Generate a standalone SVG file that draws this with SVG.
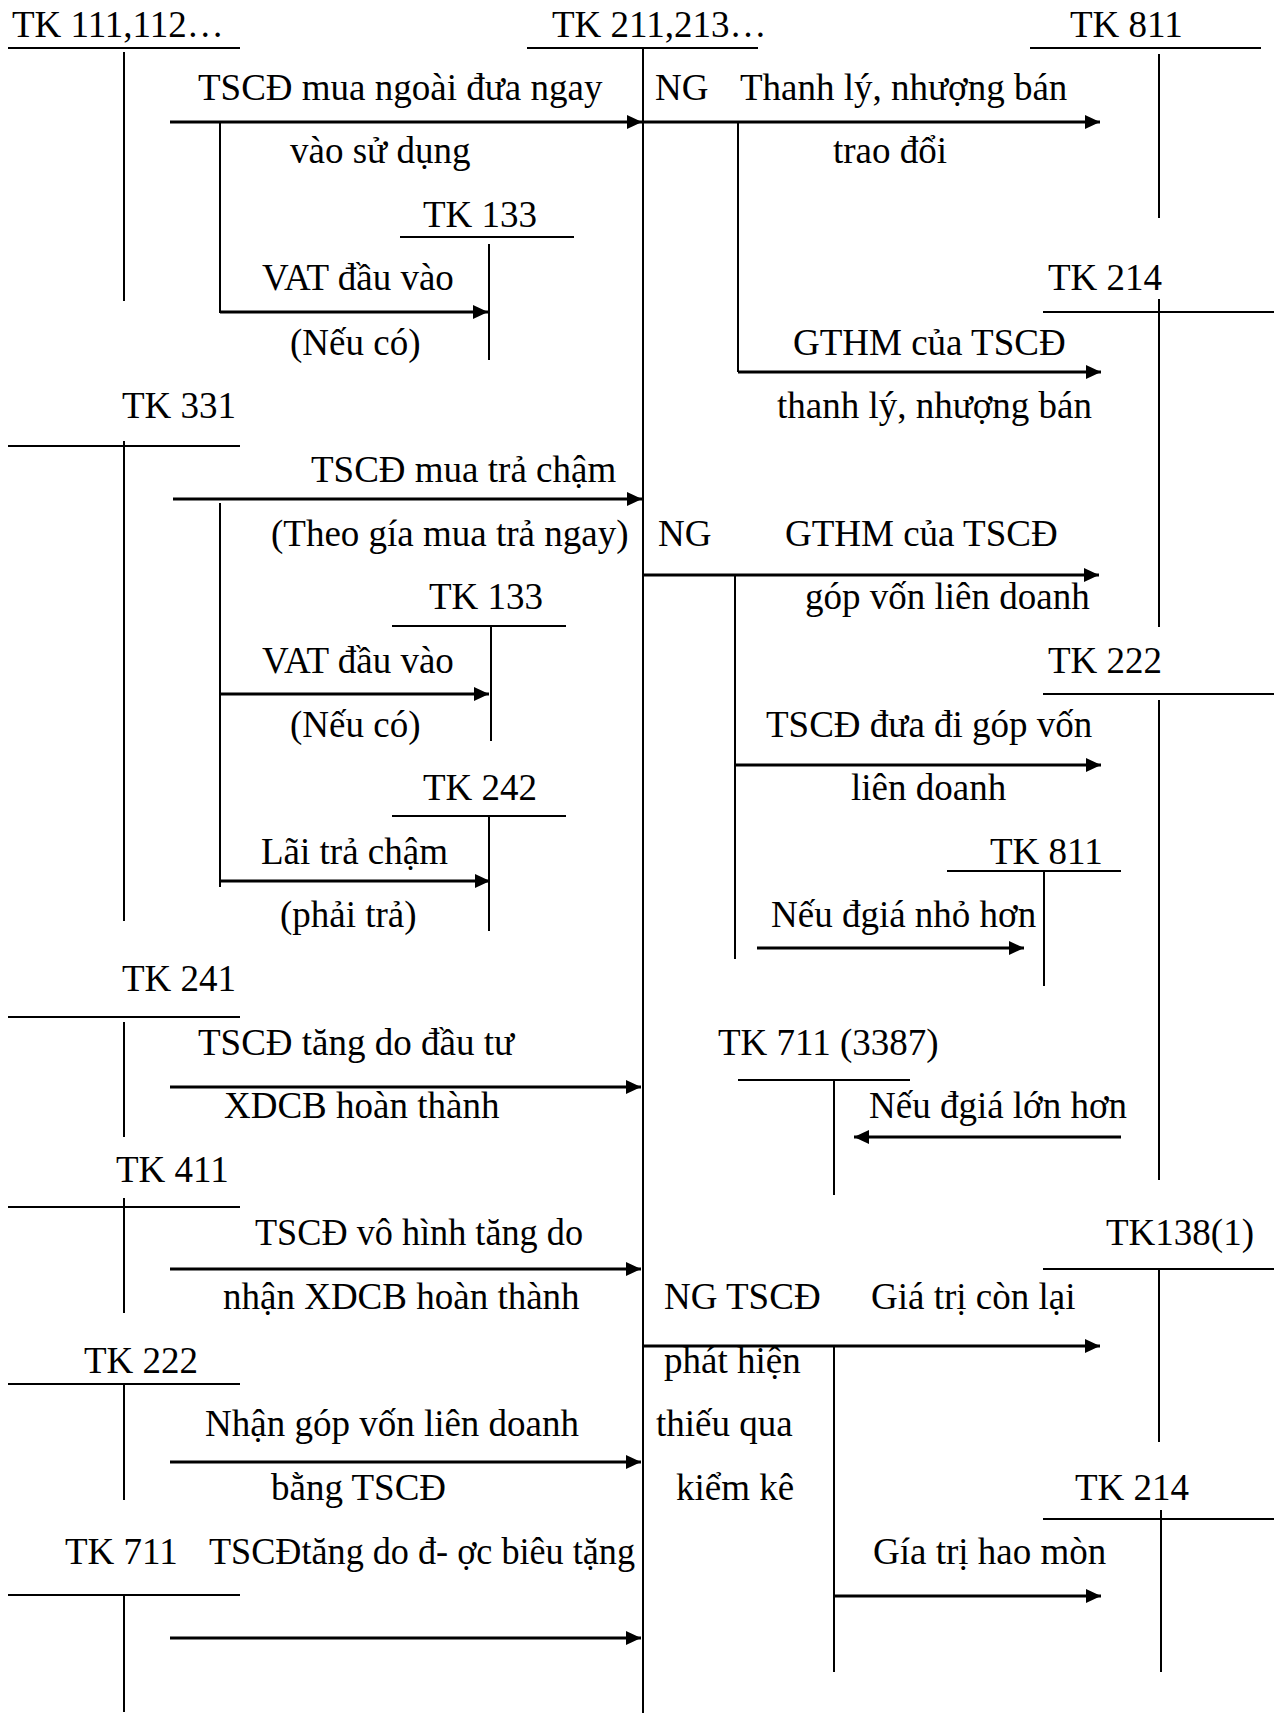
<svg xmlns="http://www.w3.org/2000/svg" width="1283" height="1713" viewBox="0 0 1283 1713">
<style>
text{font-family:"Liberation Serif","Times New Roman",serif;font-size:37px;fill:#000}
.t{stroke:#000;stroke-width:2;fill:none}
.a{stroke:#000;stroke-width:3;fill:none;marker-end:url(#ah)}
.b{stroke:#000;stroke-width:2;fill:none}
</style>
<defs>
<marker id="ah" markerUnits="userSpaceOnUse" markerWidth="15" markerHeight="14" refX="15" refY="7" orient="auto">
<path d="M0,0 L15,7 L0,14 Z" fill="#000"/>
</marker>
</defs>
<rect width="1283" height="1713" fill="#fff"/>

<g id="tk111"><text x="12" y="37">TK 111,112…</text><path class="t" d="M8,48H240M124,52V301"/></g>
<g id="tk211"><text x="552" y="37">TK 211,213…</text><path class="t" d="M527,48H758M643,48V1713"/></g>
<g id="tk811a"><text x="1070" y="37">TK 811</text><path class="t" d="M1030,48H1261M1159,54V218"/></g>
<g id="tk133a"><text x="423" y="227">TK 133</text><path class="t" d="M400,237H574M489,244V360"/></g>
<g id="tk214a"><text x="1048" y="290">TK 214</text><path class="t" d="M1043,312H1274M1159,299V627"/></g>
<g id="tk331"><text x="122" y="418">TK 331</text><path class="t" d="M8,446H240M124,441V921"/></g>
<g id="tk133b"><text x="429" y="609">TK 133</text><path class="t" d="M392,626H566M491,626V741"/></g>
<g id="tk222r"><text x="1048" y="673">TK 222</text><path class="t" d="M1043,694H1274M1159,700V1180"/></g>
<g id="tk242"><text x="423" y="800">TK 242</text><path class="t" d="M392,816H566M489,816V931"/></g>
<g id="tk811b"><text x="990" y="864">TK 811</text><path class="t" d="M947,871H1121M1044,871V986"/></g>
<g id="tk241"><text x="122" y="991">TK 241</text><path class="t" d="M8,1017H240M124,1022V1137"/></g>
<g id="tk711r"><text x="718" y="1055">TK 711 (3387)</text><path class="t" d="M738,1080H910M834,1080V1195"/></g>
<g id="tk411"><text x="116" y="1182">TK 411</text><path class="t" d="M8,1207H240M124,1198V1313"/></g>
<g id="tk1381"><text x="1106" y="1245">TK138(1)</text><path class="t" d="M1043,1269H1274M1159,1269V1442"/></g>
<g id="tk222l"><text x="84" y="1373">TK 222</text><path class="t" d="M8,1384H240M124,1384V1500"/></g>
<g id="tk214b"><text x="1075" y="1500">TK 214</text><path class="t" d="M1043,1519H1274M1161,1510V1672"/></g>
<g id="tk711l"><text x="65" y="1564">TK 711</text><path class="t" d="M8,1595H240M124,1595V1712"/></g>

<g id="connectors">
<path class="a" d="M170,122H642"/>
<path class="b" d="M220,122V313"/>
<path class="a" d="M220,312H488"/>
<path class="a" d="M643,122H1100"/>
<path class="b" d="M738,122V372"/>
<path class="a" d="M738,372H1101"/>
<path class="a" d="M173,499H642"/>
<path class="b" d="M220,503V887"/>
<path class="a" d="M220,694H489"/>
<path class="a" d="M220,881H490"/>
<path class="a" d="M643,575H1099"/>
<path class="b" d="M735,575V959"/>
<path class="a" d="M735,765H1101"/>
<path class="a" d="M757,948H1024"/>
<path class="a" d="M170,1087H641"/>
<path class="a" d="M1121,1137H854"/>
<path class="a" d="M170,1269H641"/>
<path class="a" d="M643,1346H1100"/>
<path class="b" d="M834,1346V1672"/>
<path class="a" d="M834,1596H1101"/>
<path class="a" d="M170,1462H641"/>
<path class="a" d="M170,1638H641"/>
</g>

<g id="labels">
<text x="198" y="100">TSCĐ mua ngoài đưa ngay</text>
<text x="655" y="100">NG</text>
<text x="740" y="100">Thanh lý, nhượng bán</text>
<text x="290" y="163">vào sử dụng</text>
<text x="833" y="163">trao đổi</text>
<text x="262" y="290">VAT đầu vào</text>
<text x="290" y="355">(Nếu có)</text>
<text x="793" y="355">GTHM của TSCĐ</text>
<text x="777" y="418">thanh lý, nhượng bán</text>
<text x="311" y="482">TSCĐ mua trả chậm</text>
<text x="271" y="546">(Theo gía mua trả ngay)</text>
<text x="658" y="546">NG</text>
<text x="785" y="546">GTHM của TSCĐ</text>
<text x="805" y="609">góp vốn liên doanh</text>
<text x="262" y="673">VAT đầu vào</text>
<text x="290" y="737">(Nếu có)</text>
<text x="766" y="737">TSCĐ đưa đi góp vốn</text>
<text x="851" y="800">liên doanh</text>
<text x="261" y="864">Lãi trả chậm</text>
<text x="280" y="927">(phải trả)</text>
<text x="771" y="927">Nếu đgiá nhỏ hơn</text>
<text x="198" y="1055">TSCĐ tăng do đầu tư</text>
<text x="869" y="1118">Nếu đgiá lớn hơn</text>
<text x="224" y="1118">XDCB hoàn thành</text>
<text x="255" y="1245" textLength="328" lengthAdjust="spacingAndGlyphs">TSCĐ vô hình tăng do</text>
<text x="664" y="1309">NG TSCĐ</text>
<text x="871" y="1309">Giá trị còn lại</text>
<text x="223" y="1309">nhận XDCB hoàn thành</text>
<text x="664" y="1373">phát hiện</text>
<text x="656" y="1436">thiếu qua</text>
<text x="205" y="1436">Nhận góp vốn liên doanh</text>
<text x="676" y="1500">kiểm kê</text>
<text x="271" y="1500">bằng TSCĐ</text>
<text x="873" y="1564">Gía trị hao mòn</text>
<text x="209" y="1564" textLength="426" lengthAdjust="spacingAndGlyphs">TSCĐtăng do đ- ợc biêu tặng</text>
</g>
</svg>
